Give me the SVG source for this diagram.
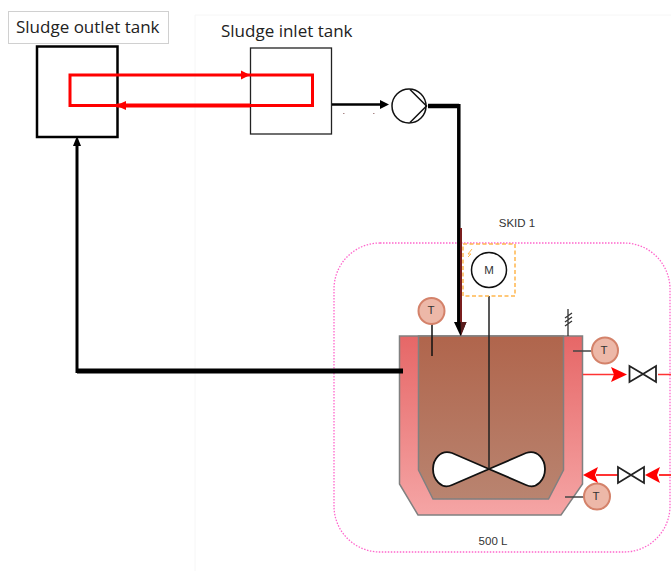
<svg xmlns="http://www.w3.org/2000/svg" width="671" height="571" viewBox="0 0 671 571">
<style>
.lab{font-family:"Open Sans","Noto Sans",sans-serif;font-size:17px;fill:#222}
.sm{font-family:"Liberation Sans",Arial,sans-serif;font-size:11.500px;fill:#333;text-anchor:middle}
.ti{fill:#edb8a8;stroke:#d4826a;stroke-width:2}
.k{fill:none;stroke:#000}
.v{fill:#fff;stroke:#222;stroke-width:1.800}
.r{fill:none;stroke:#f00}
.rl{fill:none;stroke:#f33}
</style>
<defs>
<linearGradient id="jk" x1="0" y1="0" x2="0" y2="1"><stop offset="0" stop-color="#e66767"/><stop offset="1" stop-color="#f5a5a5"/></linearGradient>
<linearGradient id="sl" x1="0" y1="0" x2="0" y2="1"><stop offset="0" stop-color="#b0654c"/><stop offset="1" stop-color="#b98470"/></linearGradient>
</defs>
<rect width="671" height="571" fill="#fff"/>
<path d="M195 571V15H671" fill="none" stroke="#f6f6f6"/>
<g id="skid"><rect x="334" y="243" width="336" height="309" rx="46" fill="none" stroke="#ff66cc" stroke-width="1.300" stroke-dasharray="1.500 1.500"/><text class="sm" x="517" y="227">SKID 1</text><text class="sm" x="493" y="545">500 L</text></g>
<g id="outlet-label"><rect x="8.500" y="11.500" width="160" height="32" fill="#fff" stroke="#d0d0d0"/><text class="lab" x="16" y="33">Sludge outlet tank</text></g>
<g id="inlet-label"><text class="lab" x="221" y="37">Sludge inlet tank</text></g>
<g id="outlet-tank"><rect x="37" y="46.500" width="80.500" height="90.500" fill="#fff" stroke="#000" stroke-width="2.500"/></g>
<g id="inlet-tank"><rect x="250.500" y="48" width="81" height="86" fill="#fff" stroke="#222" stroke-width="1.300"/></g>
<g id="pump"><circle cx="409" cy="106" r="17" fill="#fff" stroke="#111" stroke-width="1.500"/><path d="M410 89.500L426.500 106L410 122.500" fill="none" stroke="#111" stroke-width="1.500"/></g>
<g id="reactor">
<path d="M399.500 336H582.500V484L561 515H418L399.500 484Z" fill="url(#jk)" stroke="#808080" stroke-width="1.500"/>
<path d="M418.500 336H563.500V470L548.500 499H433L418.500 470Z" fill="url(#sl)" stroke="#808080" stroke-width="1.500"/>
<path d="M489 469L452 453C440 449 433 460 433 469C433 479 441 490 452 485ZM489 469L526 453C538 449 545 460 545 469C545 479 537 490 526 485Z" fill="#fff" stroke="#111" stroke-width="1.800"/>
<path d="M489 296V469" stroke="#222" stroke-width="1.500" fill="none"/>
</g>
<g id="motor"><rect x="463" y="244" width="52" height="52" fill="none" stroke="#ffb74d" stroke-width="1.500" stroke-dasharray="4 2.500"/><path d="M472 249L468 254H471L468 257" fill="none" stroke="#ffb74d"/><circle cx="489" cy="270" r="17.500" fill="#fff" stroke="#111" stroke-width="1.500"/><text class="sm" x="489" y="274">M</text></g>
<g id="t1"><path d="M432 324V356" stroke="#111" stroke-width="1.500"/><circle class="ti" cx="431.500" cy="311" r="13"/><text class="sm" x="431" y="314">T</text></g>
<g id="t2"><path d="M573 351H592" stroke="#444" stroke-width="1.500"/><circle class="ti" cx="605" cy="350.500" r="13"/><text class="sm" x="604" y="354">T</text></g>
<g id="t3"><path d="M565 497H584" stroke="#444" stroke-width="1.500"/><circle class="ti" cx="597" cy="496.500" r="13"/><text class="sm" x="596" y="500">T</text></g>
<g id="vent"><path d="M568 336V309M565 318L572 313M565 322L572 317M565 326L572 321" stroke="#333" stroke-width="1.300" fill="none"/></g>
<g id="connectors">
<path class="r" stroke-width="3" d="M70 75H312.500V105.500H70Z"/>
<path d="M241 70.500L250 75L241 79.500Z" fill="#f00"/>
<path d="M117 105.500H250" stroke="#f00" stroke-width="4"/><path d="M126 101L116 105.500L126 110Z" fill="#f00"/>
<path class="k" stroke-width="2.500" d="M332 104.500H382"/><path d="M380 100L389 104.500L380 109Z" fill="#000"/>
<path d="M343 113.500h1.500M373 113.500h1.500" stroke="#a88" fill="none"/>
<path class="k" stroke-width="4.500" d="M428 106H459"/>
<path class="k" stroke-width="3.500" d="M458.800 104V326"/>
<path d="M461 228V325" stroke="#7b1f1f" stroke-width="2" fill="none"/>
<path d="M454 322L460.500 336L466.500 322Z" fill="#000"/><path d="M461 336L466.500 322H460.500Z" fill="#5a1c1c"/>
<path class="k" stroke-width="5" d="M403 371H77"/>
<path class="k" stroke-width="3" d="M77 373V146"/>
<path d="M73 146L77 136L81 146Z" fill="#000"/>
<path class="rl" stroke-width="1.500" d="M583 374.500H614"/><path d="M611 367L627 374.500L611 382L614 374.500Z" fill="#f00"/>
<path class="rl" stroke-width="1.500" d="M658 374.500H671"/>
<path class="rl" stroke-width="2" d="M596 475H618M659 475H671"/><path d="M598 467L583 475L598 483L595 475Z" fill="#f00"/><path d="M660 467L645 475L660 483L657 475Z" fill="#f00"/>
</g>
<g id="valve1"><path class="v" d="M629.500 366V382L643 374ZM656 366V382L643 374Z"/></g>
<g id="valve2"><path class="v" d="M618 467V483L631 475ZM644 467V483L631 475Z"/></g>
</svg>
